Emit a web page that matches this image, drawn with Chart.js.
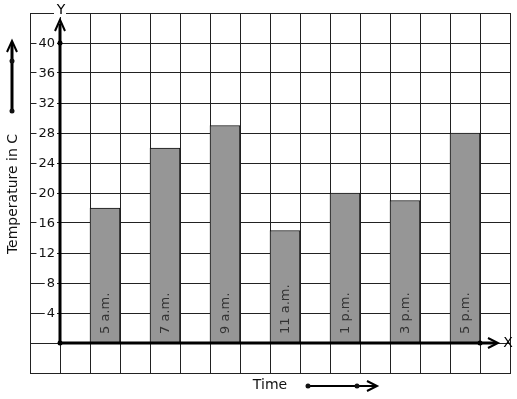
<!DOCTYPE html>
<html><head><meta charset="utf-8">
<script src="https://cdn.jsdelivr.net/npm/chart.js@4"></script>
<style>html,body{margin:0;padding:0;background:#fff}#w{width:517px;height:399px}</style>
</head><body><div id="w"><canvas id="c"></canvas></div>
<script>
const categories = ['5 a.m.', '7 a.m.', '9 a.m.', '11 a.m.', '1 p.m.', '3 p.m.', '5 p.m.'];
const temperatures = [18, 26, 29, 15, 20, 19, 28];
const yTickLabels = [4, 8, 12, 16, 20, 24, 28, 32, 36, 40];
const yTitle = 'Temperature in C';
const xTitle = 'Time';

// 16 grid columns; axis origin at column boundary 1, bars in every other column
const slots = new Array(16).fill('');
const values = new Array(16).fill(null);
categories.forEach((c, i) => { slots[2 + 2 * i] = c; values[2 + 2 * i] = temperatures[i]; });

const FONT = '"DejaVu Sans", sans-serif';

const deco = {
  id: 'deco',
  afterDatasetsDraw(chart) {
    const ctx = chart.ctx;
    const xs = chart.scales.x, ys = chart.scales.y;
    const meta = chart.getDatasetMeta(0);
    // bar labels
    ctx.save();
    ctx.font = '13px ' + FONT;
    ctx.fillStyle = '#333';
    ctx.textAlign = 'left';
    ctx.textBaseline = 'middle';
    meta.data.forEach((bar, i) => {
      if (values[i] == null) return;
      ctx.save();
      ctx.translate(bar.x, ys.getPixelForValue(0) - 9);
      ctx.rotate(-Math.PI / 2);
      ctx.fillText(slots[i], 0, 1);
      ctx.restore();
    });
    ctx.restore();

    const colW = (xs.right - xs.left) / 16;
    const x0 = xs.left + colW;
    const y0 = ys.getPixelForValue(0);
    const yTop = ys.getPixelForValue(40);
    ctx.save();
    // y tick labels with white backdrop
    ctx.font = '13px ' + FONT;
    ctx.textBaseline = 'middle';
    ctx.textAlign = 'right';
    yTickLabels.forEach(v => {
      const y = ys.getPixelForValue(v);
      const w = ctx.measureText(String(v)).width;
      ctx.fillStyle = '#fff';
      ctx.fillRect(x0 - 5 - w - 2, y - 7, w + 4, 14);
      ctx.fillStyle = '#111';
      ctx.fillText(String(v), x0 - 5, y + 1);
    });
    ctx.strokeStyle = '#000';
    ctx.fillStyle = '#000';
    ctx.lineCap = 'butt';
    // Y axis
    ctx.lineWidth = 3;
    ctx.beginPath(); ctx.moveTo(x0, y0); ctx.lineTo(x0, ys.getPixelForValue(42.6)); ctx.stroke();
    ctx.lineWidth = 2;
    ctx.beginPath(); ctx.moveTo(x0 - 5, ys.getPixelForValue(41.6)); ctx.lineTo(x0, ys.getPixelForValue(43.1)); ctx.lineTo(x0 + 5, ys.getPixelForValue(41.6)); ctx.stroke();
    // X axis
    const xEnd = xs.left + colW * 15.6;
    ctx.lineWidth = 3;
    ctx.beginPath(); ctx.moveTo(x0, y0); ctx.lineTo(xEnd - 2, y0); ctx.stroke();
    ctx.lineWidth = 2;
    ctx.beginPath(); ctx.moveTo(xEnd - 10, y0 - 5); ctx.lineTo(xEnd, y0); ctx.lineTo(xEnd - 10, y0 + 5); ctx.stroke();
    // dots
    const dot = (x, y) => { ctx.beginPath(); ctx.arc(x, y, 2.5, 0, Math.PI * 2); ctx.fill(); };
    dot(x0, y0); dot(x0, yTop);
    dot(xs.left + colW * 15, y0);
    // axis letters
    ctx.font = '14px ' + FONT;
    ctx.textAlign = 'center';
    ctx.fillStyle = '#fff';
    ctx.fillRect(x0 - 6, ys.top - 6, 12, 10);
    ctx.fillStyle = '#000';
    ctx.fillText('Y', x0 + 1, ys.top - 3);
    ctx.fillText('X', xEnd + 10, y0);
    // left title
    ctx.fillStyle = '#111';
    ctx.save();
    ctx.translate(13, 194);
    ctx.rotate(-Math.PI / 2);
    ctx.fillText(yTitle, 0, 0);
    ctx.restore();
    // left arrow
    ctx.lineWidth = 3;
    ctx.beginPath(); ctx.moveTo(12, 111); ctx.lineTo(12, 43); ctx.stroke();
    ctx.lineWidth = 2;
    ctx.beginPath(); ctx.moveTo(7, 52); ctx.lineTo(12, 41); ctx.lineTo(17, 52); ctx.stroke();
    dot(12, 61); dot(12, 111);
    // bottom title
    ctx.fillText(xTitle, 270, 385);
    ctx.lineWidth = 2;
    ctx.beginPath(); ctx.moveTo(308, 386); ctx.lineTo(375, 386); ctx.stroke();
    ctx.beginPath(); ctx.moveTo(367, 381); ctx.lineTo(377, 386); ctx.lineTo(367, 391); ctx.stroke();
    dot(308, 386); dot(357, 386);
    ctx.restore();
  }
};

new Chart(document.getElementById('c'), {
  type: 'bar',
  data: {
    labels: slots,
    datasets: [{
      data: values,
      backgroundColor: '#969696',
      borderColor: '#111',
      borderWidth: 1,
      barPercentage: 1,
      categoryPercentage: 1
    }]
  },
  options: {
    responsive: true,
    maintainAspectRatio: false,
    animation: false,
    devicePixelRatio: 1,
    layout: { padding: { left: 30, top: 13, right: 7, bottom: 26 } },
    plugins: { legend: { display: false }, tooltip: { enabled: false } },
    scales: {
      x: {
        grid: { color: '#222', lineWidth: 1, drawTicks: false, offset: true },
        border: { display: true, color: '#222' },
        ticks: { display: false }
      },
      y: {
        min: -4, max: 44,
        grid: { color: '#222', lineWidth: 1, drawTicks: false },
        border: { display: true, color: '#222' },
        ticks: { stepSize: 4, display: false }
      }
    }
  },
  plugins: [deco]
});
</script>
</body></html>
